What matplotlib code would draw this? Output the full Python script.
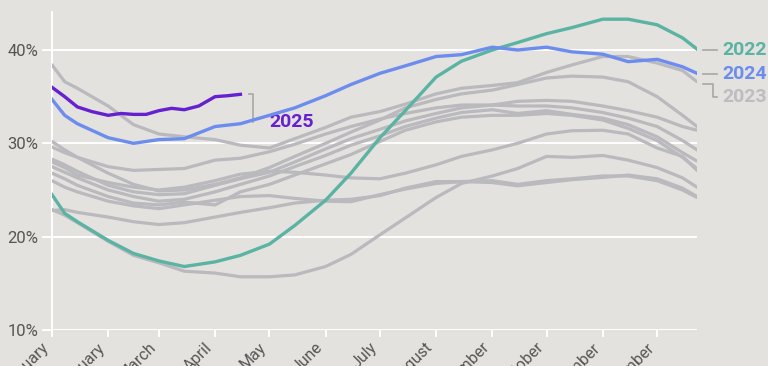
import matplotlib
matplotlib.use("Agg")
import matplotlib.pyplot as plt
from matplotlib import font_manager

names = {f.name for f in font_manager.fontManager.ttflist}
narrow = 'Liberation Sans Narrow' if 'Liberation Sans Narrow' in names else 'Roboto'
print(narrow)

# day-of-year sample positions
days = [0, 7, 14, 31, 45, 59, 73, 90, 104, 120, 134, 151, 165, 181, 195, 212,
        226, 243, 257, 273, 287, 304, 318, 334, 348, 356]

months = ["January", "February", "March", "April", "May", "June", "July",
          "August", "September", "October", "November", "December"]
month_days = [0, 31, 59, 90, 120, 151, 181, 212, 243, 273, 304, 334]

y2022 = [24.5, 22.5, 21.6, 19.6, 18.2, 17.4, 16.8, 17.3, 18.0, 19.2, 21.2, 23.9,
         26.8, 30.6, 33.5, 37.1, 38.8, 40.0, 40.8, 41.75, 42.4, 43.3, 43.3, 42.7,
         41.3, 40.1]
y2024 = [34.7, 33.0, 32.1, 30.6, 30.0, 30.4, 30.5, 31.8, 32.1, 33.0, 33.8, 35.1,
         36.3, 37.5, 38.3, 39.3, 39.5, 40.3, 40.0, 40.3, 39.8, 39.55, 38.75, 39.0,
         38.2, 37.5]
y2023 = [38.4, 36.6, 35.9, 34.0, 32.0, 31.0, 30.7, 30.4, 29.8, 29.5, 30.5, 31.7,
         32.8, 33.4, 34.2, 35.3, 35.9, 36.2, 36.5, 37.6, 38.4, 39.3, 39.3, 38.6,
         37.8, 36.6]
days2025 = [0, 7, 14, 22, 31, 38, 45, 52, 59, 66, 73, 81, 90, 97, 104]
y2025 = [36.0, 35.0, 33.9, 33.4, 33.0, 33.2, 33.1, 33.1, 33.5, 33.75, 33.6, 34.0,
         35.0, 35.1, 35.25]

gray_a = [30.2, 29.3, 28.5, 26.8, 25.6, 24.9, 25.0, 25.6, 26.3, 27.4, 28.6, 30.0,
          31.2, 32.5, 33.8, 34.7, 35.3, 35.7, 36.3, 37.0, 37.2, 37.1, 36.6, 35.0,
          33.0, 31.8]
gray_l = [29.6, 29.0, 28.5, 27.5, 27.1, 27.2, 27.3, 28.2, 28.4, 29.1, 29.9, 31.0,
          31.8, 32.6, 33.2, 33.8, 34.1, 34.1, 34.5, 34.6, 34.5, 34.0, 33.5, 32.8,
          31.8, 31.4]
gray_b = [28.3, 27.7, 27.0, 25.5, 24.8, 24.5, 24.6, 25.5, 26.2, 26.9, 28.0, 29.4,
          30.5, 31.5, 32.4, 33.2, 33.8, 34.1, 34.0, 34.0, 33.8, 33.3, 32.7, 31.8,
          30.3, 29.3]
gray_c = [27.5, 26.9, 26.3, 25.0, 24.3, 23.8, 24.0, 24.8, 25.6, 26.5, 27.5, 28.7,
          29.8, 30.8, 31.8, 32.7, 33.3, 33.6, 33.2, 33.5, 33.1, 32.7, 32.0, 30.7,
          29.0, 28.1]
gray_d = [26.8, 26.2, 25.5, 24.3, 23.6, 23.4, 23.7, 23.4, 24.8, 25.6, 26.6, 27.8,
          28.8, 30.2, 31.4, 32.3, 32.8, 33.0, 33.0, 33.2, 33.0, 32.5, 31.6, 30.3,
          28.5, 27.3]
gray_f = [28.0, 27.4, 26.6, 25.8, 25.3, 25.0, 25.3, 26.0, 26.7, 27.0, 26.9, 26.6,
          26.3, 26.2, 26.8, 27.7, 28.6, 29.3, 30.0, 31.0, 31.35, 31.4, 31.0, 29.5,
          28.6, 27.1]
gray_h = [22.9, 22.3, 21.5, 19.5, 18.0, 17.2, 16.3, 16.1, 15.7, 15.7, 15.9, 16.8,
          18.1, 20.2, 22.0, 24.2, 25.7, 26.5, 27.3, 28.6, 28.5, 28.7, 28.2, 27.4,
          26.3, 25.3]
gray_j = [26.0, 25.3, 24.8, 23.8, 23.3, 23.0, 23.4, 23.9, 24.3, 24.4, 24.1, 23.8,
          23.75, 24.5, 25.1, 25.7, 25.9, 25.8, 25.45, 25.8, 26.1, 26.35, 26.6, 26.2,
          25.2, 24.3]
gray_i = [22.8, 22.9, 22.6, 22.1, 21.6, 21.3, 21.5, 22.1, 22.6, 23.1, 23.6, 23.9,
          24.0, 24.4, 25.2, 25.9, 25.9, 26.0, 25.6, 26.0, 26.2, 26.5, 26.5, 26.0,
          25.0, 24.2]

gray_series = [gray_a, gray_l, gray_b, gray_c, gray_d, gray_f, gray_h, gray_j, gray_i, y2023]

BG = '#e4e2de'
GRAY = '#b9b9be'
TEAL = '#5ab3a3'
BLUE = '#6c8cee'
PURPLE = '#6520cf'
LABEL23 = '#bdbdc1'
CONN = '#a8a8a8'
TXT = '#555555'

fig = plt.figure(figsize=(7.68, 3.66), dpi=100, facecolor=BG)
ax = fig.add_axes([52/768, 36/366, 645/768, 318/366])
ax.set_facecolor(BG)

for s in gray_series:
    ax.plot(days, s, color=GRAY, lw=2.3, solid_capstyle='round', zorder=3)
ax.plot(days, y2022, color=TEAL, lw=2.4, zorder=4)
ax.plot(days, y2024, color=BLUE, lw=2.4, zorder=5)
ax.plot(days2025, y2025, color=PURPLE, lw=2.4, zorder=6)

ax.set_xlim(0, 356)
ax.set_ylim(10, 44.07)
yt = [10, 20, 30, 40]
ax.set_yticks(yt)
ax.set_yticklabels([f"{v}%" for v in yt])
ax.set_xticks(month_days)
ax.set_xticklabels(months, rotation=45, ha='right', va='top', rotation_mode='default')
ax.grid(axis='y', color='white', lw=1.4, zorder=1)
for sp in ['top', 'right', 'bottom']:
    ax.spines[sp].set_visible(False)
ax.spines['left'].set_color('white')
ax.spines['left'].set_linewidth(1.4)
ax.tick_params(axis='y', length=7, width=1.4, color='white', pad=3,
               labelsize=12, labelcolor=TXT)
ax.tick_params(axis='x', length=5, width=1.4, color='white', pad=2,
               labelsize=11.5, labelcolor=TXT)
for lab in ax.get_xticklabels() + ax.get_yticklabels():
    lab.set_fontfamily([narrow, 'DejaVu Sans'])

# end labels
tr = ax.transData
def conn(xs, ys):
    ax.plot(xs, ys, color=CONN, lw=1.2, clip_on=False, zorder=2)

conn([359.5, 367], [40.0, 40.0])
conn([359.5, 367], [37.45, 37.45])
conn([359.5, 365, 365, 367], [36.4, 36.4, 34.95, 34.95])
lab_kw = dict(fontsize=14, fontweight='bold', va='center', ha='left',
              family=[narrow, 'DejaVu Sans'], clip_on=False)
ax.text(370, 40.0, "2022", color=TEAL, **lab_kw)
ax.text(370, 37.45, "2024", color=BLUE, **lab_kw)
ax.text(370, 34.95, "2023", color=LABEL23, **lab_kw)

conn([108.5, 111, 111], [35.3, 35.3, 32.3])
ax.text(120, 32.25, "2025", color=PURPLE, **lab_kw)

fig.savefig("out.png", dpi=100, facecolor=BG)
